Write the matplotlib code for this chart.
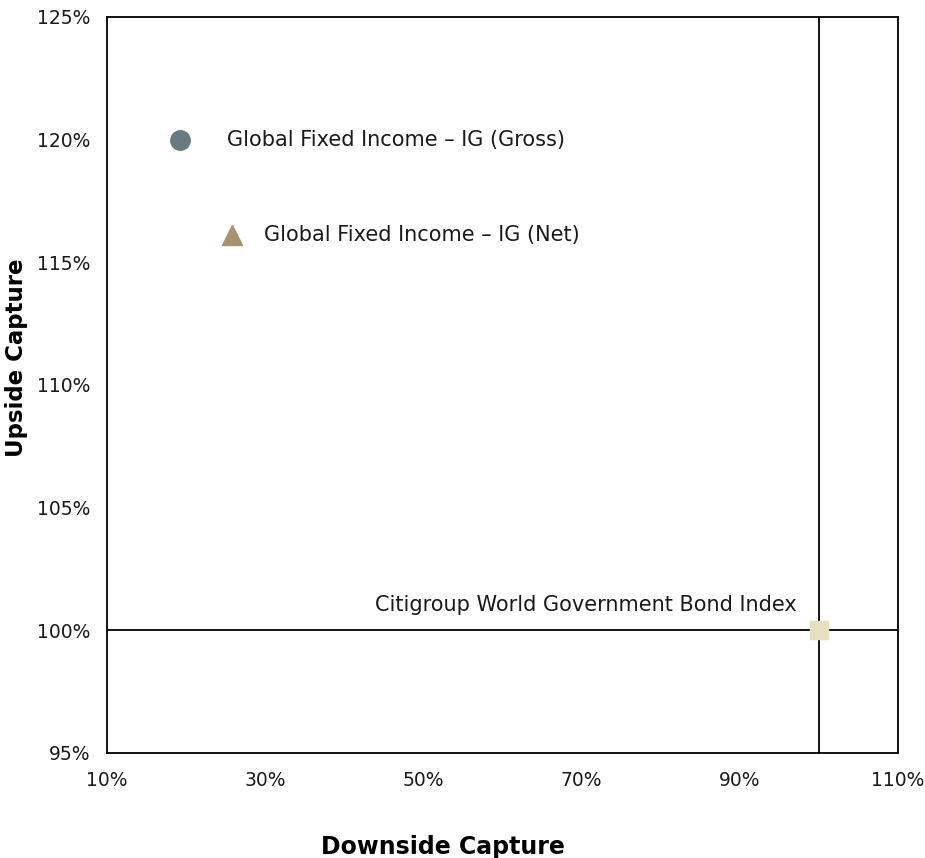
import matplotlib.pyplot as plt
from matplotlib.ticker import FuncFormatter

# Data (downside capture %, upside capture %)
names = ['Global Fixed Income – IG (Gross)',
         'Global Fixed Income – IG (Net)',
         'Citigroup World Government Bond Index']
downside = [19.2, 25.8, 100.0]
upside = [120.0, 116.1, 100.0]

x_ticks = [10, 30, 50, 70, 90, 110]
y_ticks = [95, 100, 105, 110, 115, 120, 125]

plt.rcParams['font.family'] = ['DejaVu Sans']

fig = plt.figure(figsize=(9.25, 8.58), dpi=100)
ax = fig.add_axes([0.1157, 0.1224, 0.8551, 0.8578])

# Reference lines at the index (100%, 100%)
ax.axhline(upside[2], color='black', lw=1.3, zorder=1)
ax.axvline(downside[2], color='black', lw=1.3, zorder=1)

ax.plot(downside[0], upside[0], 'o', ms=14, color='#687a82', zorder=3)
ax.plot(downside[1], upside[1], '^', ms=15, color='#a89172', zorder=3)
ax.plot(downside[2], upside[2], 's', ms=13, color='#e4e0c0', zorder=3)

lab_kw = dict(textcoords='offset points', va='center', fontsize=15, color='#1a1a1a')
ax.annotate(names[0], (downside[0], upside[0]), xytext=(34, 0), ha='left', **lab_kw)
ax.annotate(names[1], (downside[1], upside[1]), xytext=(23, 0), ha='left', **lab_kw)
ax.annotate(names[2], (downside[2], upside[2]), xytext=(-16, 18), ha='right', **lab_kw)

ax.set_xlim(10, 110)
ax.set_ylim(95, 125)
ax.set_xticks(x_ticks)
ax.set_yticks(y_ticks)
pct = FuncFormatter(lambda v, p: f'{v:.0f}%')
ax.xaxis.set_major_formatter(pct)
ax.yaxis.set_major_formatter(pct)
ax.tick_params(axis='x', length=0, labelsize=13.5, pad=13, labelcolor='#1a1a1a')
ax.tick_params(axis='y', length=0, labelsize=13.5, pad=12, labelcolor='#1a1a1a')
for s in ax.spines.values():
    s.set_linewidth(1.3)

fig.text(443 / 925, 1 - 847 / 858, 'Downside Capture', ha='center', va='center',
         fontsize=17, fontweight='bold')
fig.text(17 / 925, 1 - 358 / 858, 'Upside Capture', ha='center', va='center',
         rotation=90, fontsize=16.5, fontweight='bold')

fig.savefig('out.png', dpi=100)
